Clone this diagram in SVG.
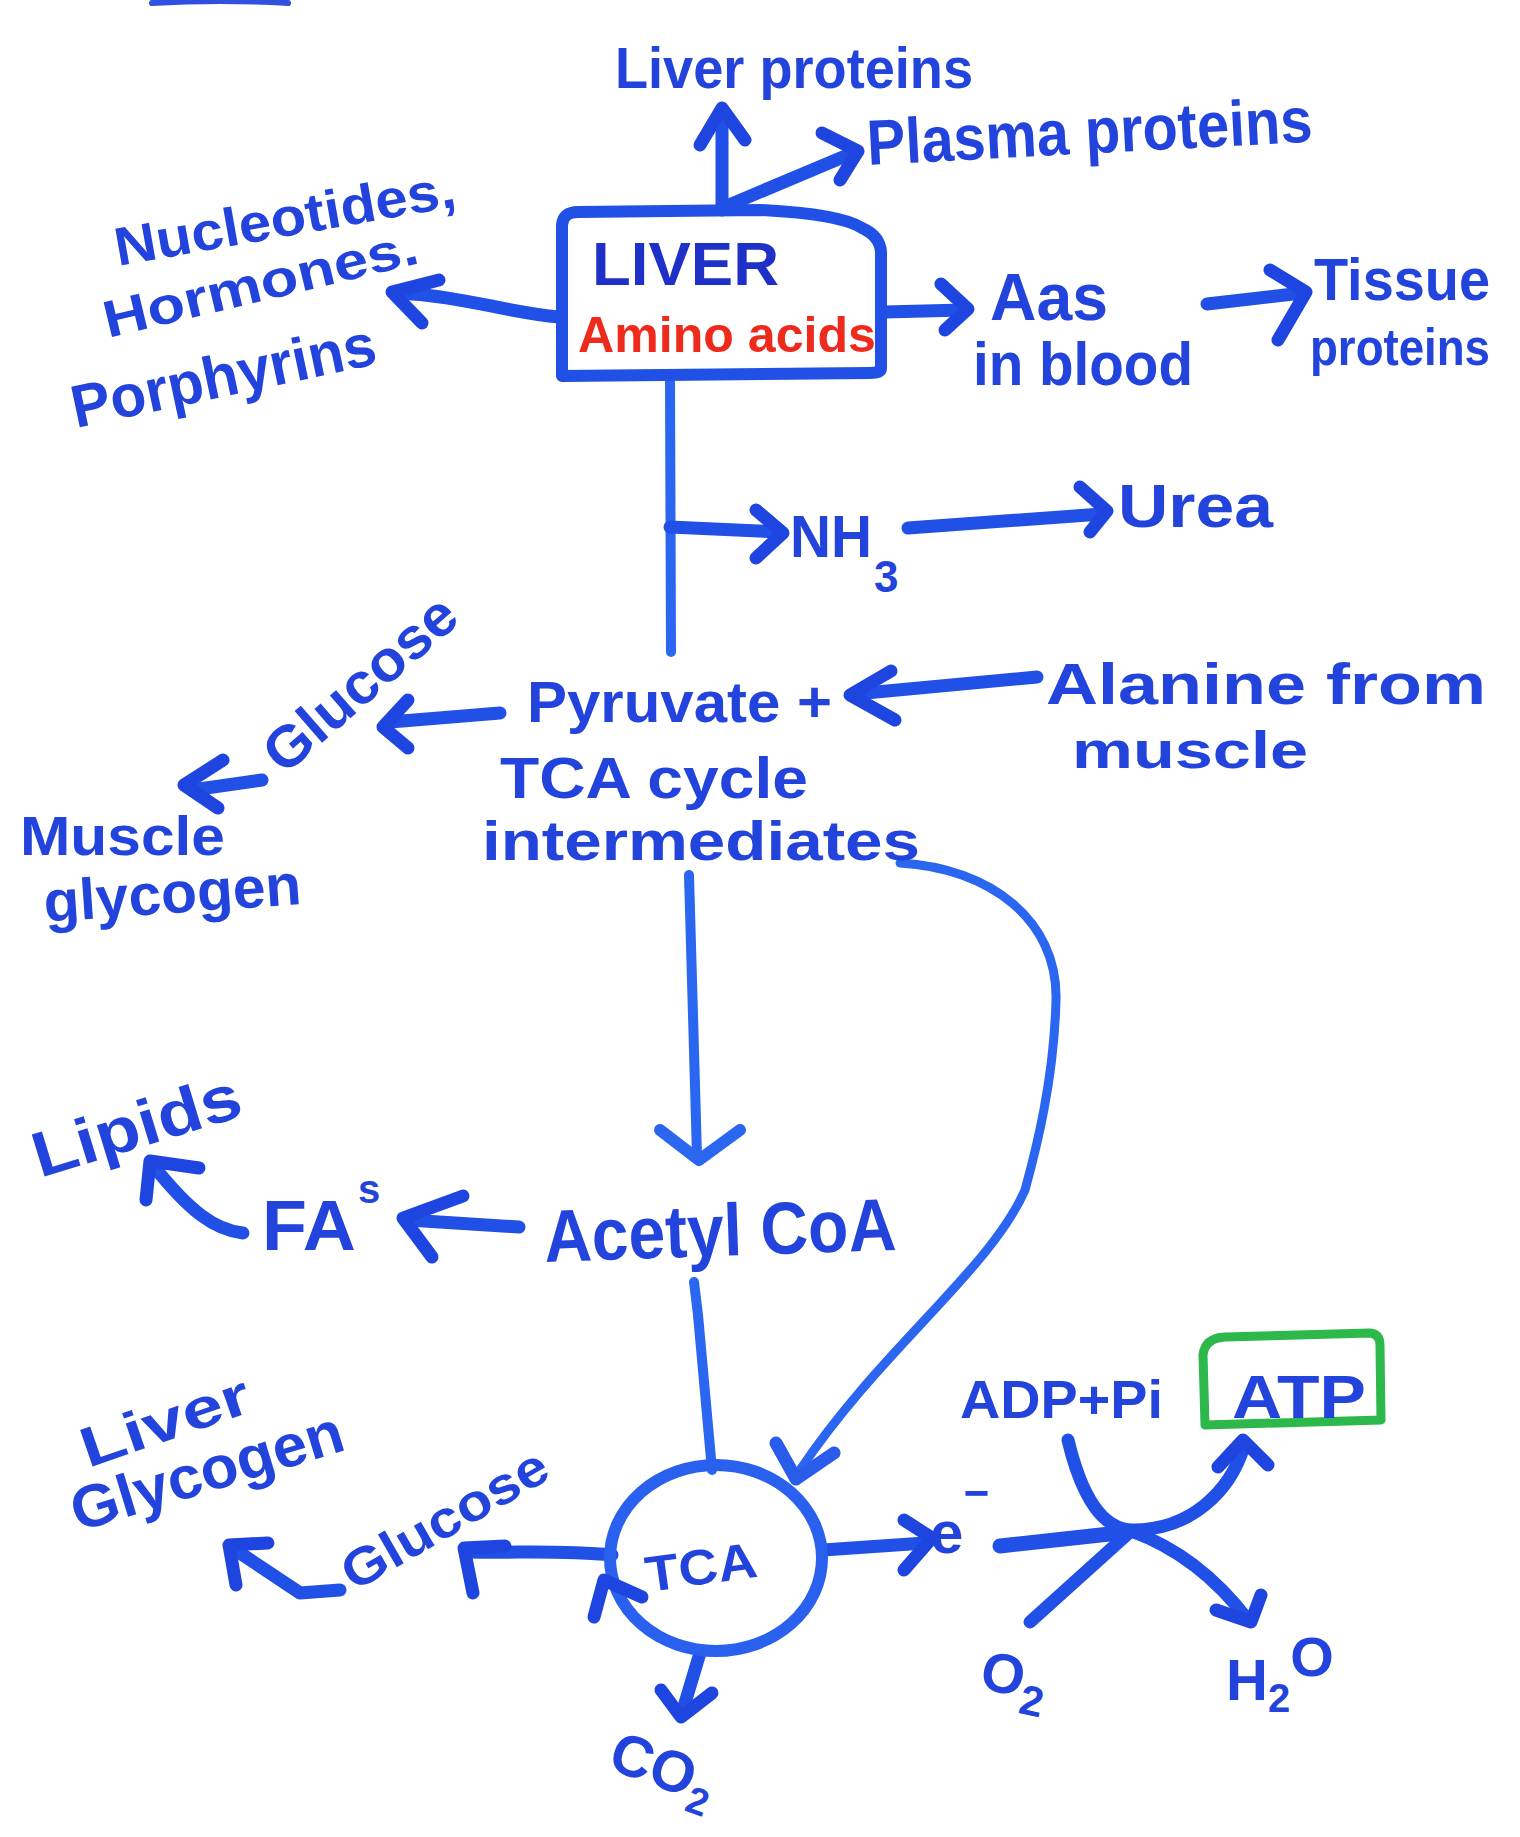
<svg xmlns="http://www.w3.org/2000/svg" width="1520" height="1837" viewBox="0 0 1520 1837">
  <style>
    .t { font-family: "Liberation Sans", "DejaVu Sans", Arial, sans-serif; font-weight: bold; fill: #2243dc; }
    .red { fill: #ee2a1c; }
    .ln { fill: none; stroke: #2050e6; stroke-width: 13; stroke-linecap: round; stroke-linejoin: round; }
    .thin { stroke: #2a66ef; stroke-width: 10; }
    .head { fill: none; stroke: #1f45e0; stroke-width: 13; stroke-linecap: round; stroke-linejoin: round; }
    .box { fill: none; stroke: #2050e6; stroke-width: 12; stroke-linejoin: round; }
    .green { fill: none; stroke: #2cb84a; stroke-width: 9; stroke-linejoin: round; }
  </style>
  <rect width="1520" height="1837" fill="#ffffff"/>

  <!-- stray pen mark along the top edge -->
  <path d="M152 3 Q220 -1 288 3" fill="none" stroke="#3050e0" stroke-width="6" stroke-linecap="round"/>

  <g id="connectors">
    <!-- liver -> liver proteins -->
    <path class="ln" d="M722 210 L722 112"/>
    <path class="head" d="M700 145 L722 108 L745 140"/>
    <!-- liver -> plasma proteins -->
    <path class="ln" d="M722 208 L855 152"/>
    <path class="head" d="M822 133 L858 151 L840 180"/>
    <!-- liver -> nucleotides -->
    <path class="ln" d="M559 317 C505 312 462 296 398 293"/>
    <path class="head" d="M439 280 L392 292 L422 323"/>
    <!-- liver -> amino acids in blood -->
    <path class="ln" d="M884 312 L964 310"/>
    <path class="head" d="M941 284 L968 309 L945 330"/>
    <!-- amino acids in blood -> tissue proteins -->
    <path class="ln" d="M1207 304 L1302 293"/>
    <path class="head" d="M1270 270 L1306 292 L1278 340"/>
    <!-- liver -> pyruvate, with branch to NH3 -->
    <path class="ln thin" d="M670 378 L671 652"/>
    <path class="ln" d="M670 527 L780 532"/>
    <path class="head" d="M756 510 L783 533 L756 558"/>
    <!-- NH3 -> urea -->
    <path class="ln" d="M908 528 L1102 514"/>
    <path class="head" d="M1080 487 L1107 511 L1090 532"/>
    <!-- alanine -> pyruvate -->
    <path class="ln" d="M1037 677 L855 694"/>
    <path class="head" d="M891 671 L850 695 L895 720"/>
    <!-- pyruvate -> glucose -->
    <path class="ln" d="M500 713 L390 722"/>
    <path class="head" d="M408 700 L383 727 L408 748"/>
    <!-- glucose -> muscle glycogen -->
    <path class="ln" d="M262 780 L192 790"/>
    <path class="head" d="M223 760 L184 785 L218 808"/>
    <!-- intermediates -> acetyl CoA -->
    <path class="ln thin" d="M689 875 L697 1156"/>
    <path class="head" d="M660 1130 L699 1160 L740 1130" style="stroke:#2a66ef;stroke-width:12"/>
    <!-- acetyl CoA -> FAs -->
    <path class="ln" d="M519 1227 L408 1220"/>
    <path class="head" d="M463 1196 L403 1218 L432 1257"/>
    <!-- FAs -> lipids -->
    <path class="ln" d="M243 1233 C215 1230 190 1212 152 1164"/>
    <path class="head" d="M146 1200 L150 1161 L199 1168"/>
    <!-- acetyl CoA -> TCA -->
    <path class="ln thin" d="M694 1282 L698 1315 L712 1470"/>
    <!-- intermediates -> TCA -->
    <path class="ln thin" d="M900 863 C990 868 1058 920 1056 1000 C1054 1080 1036 1150 1025 1190 C990 1270 880 1350 800 1470" style="stroke-width:9"/>
    <path class="head" d="M776 1443 L796 1479 L834 1453" style="stroke:#2a5cec"/>
    <!-- TCA -> glucose -->
    <path class="ln" d="M612 1555 C560 1550 520 1553 468 1552"/>
    <path class="head" d="M505 1546 L464 1548 L473 1593"/>
    <!-- glucose -> liver glycogen -->
    <path class="ln" d="M340 1590 L300 1593 L231 1547"/>
    <path class="head" d="M268 1543 L229 1545 L236 1585"/>
    <!-- TCA -> e- -->
    <path class="ln" d="M823 1550 L925 1543"/>
    <path class="head" d="M904 1520 L932 1538 L904 1570"/>
    <!-- e- into the crossing -->
    <path class="ln" d="M1000 1546 L1128 1532" style="stroke-width:15"/>
    <!-- ADP + Pi -> ATP -->
    <path class="ln" d="M1068 1440 C1080 1490 1100 1530 1133 1530 C1190 1530 1230 1492 1244 1446"/>
    <path class="head" d="M1218 1467 L1243 1440 L1268 1465"/>
    <!-- O2 -> H2O -->
    <path class="ln" d="M1030 1622 L1131 1531 C1170 1545 1210 1570 1248 1620"/>
    <path class="head" d="M1216 1610 L1251 1622 L1261 1595"/>
    <!-- TCA -> CO2 -->
    <path class="ln" d="M700 1653 L682 1713"/>
    <path class="head" d="M661 1690 L681 1717 L712 1693"/>
  </g>

  <g id="liver-proteins">
    <text class="t" x="615" y="88" font-size="58" textLength="358" lengthAdjust="spacingAndGlyphs">Liver proteins</text>
  </g>
  <g id="plasma-proteins">
    <text class="t" x="868" y="165" font-size="64" textLength="446" lengthAdjust="spacingAndGlyphs" transform="rotate(-3 868 165)">Plasma proteins</text>
  </g>
  <g id="nucleotides">
    <text class="t" x="118" y="266" font-size="54" textLength="345" lengthAdjust="spacingAndGlyphs" transform="rotate(-10 118 266)">Nucleotides,</text>
    <text class="t" x="108" y="338" font-size="52" textLength="322" lengthAdjust="spacingAndGlyphs" transform="rotate(-13.5 108 338)">Hormones.</text>
    <text class="t" x="76" y="428" font-size="60" textLength="310" lengthAdjust="spacingAndGlyphs" transform="rotate(-12 76 428)">Porphyrins</text>
  </g>
  <g id="liver">
    <path class="box" d="M562 376 L562 225 Q563 212 578 212 L760 210 Q840 214 862 228 Q880 236 881 252 L881 368 Q881 373 870 373 Z"/>
    <text class="t" x="592" y="285" font-size="62" textLength="187" lengthAdjust="spacingAndGlyphs" style="fill:#1f30c8">LIVER</text>
    <text class="t red" x="578" y="352" font-size="50" textLength="298" lengthAdjust="spacingAndGlyphs">Amino acids</text>
  </g>
  <g id="aas-in-blood">
    <text class="t" x="990" y="320" font-size="66" textLength="118" lengthAdjust="spacingAndGlyphs">Aas</text>
    <text class="t" x="973" y="385" font-size="62" textLength="220" lengthAdjust="spacingAndGlyphs">in blood</text>
  </g>
  <g id="tissue-proteins">
    <text class="t" x="1314" y="300" font-size="60" textLength="176" lengthAdjust="spacingAndGlyphs">Tissue</text>
    <text class="t" x="1310" y="365" font-size="52" textLength="180" lengthAdjust="spacingAndGlyphs">proteins</text>
  </g>
  <g id="nh3">
    <text class="t" x="790" y="557" font-size="60" textLength="82" lengthAdjust="spacingAndGlyphs">NH</text>
    <text class="t" x="874" y="592" font-size="44">3</text>
  </g>
  <g id="urea">
    <text class="t" x="1118" y="527" font-size="62" textLength="155" lengthAdjust="spacingAndGlyphs">Urea</text>
  </g>
  <g id="pyruvate">
    <text class="t" x="527" y="722" font-size="58" textLength="305" lengthAdjust="spacingAndGlyphs">Pyruvate +</text>
    <text class="t" x="500" y="798" font-size="58" textLength="308" lengthAdjust="spacingAndGlyphs">TCA cycle</text>
    <text class="t" x="482" y="860" font-size="56" textLength="438" lengthAdjust="spacingAndGlyphs">intermediates</text>
  </g>
  <g id="alanine">
    <text class="t" x="1046" y="704" font-size="58" textLength="440" lengthAdjust="spacingAndGlyphs">Alanine from</text>
    <text class="t" x="1072" y="768" font-size="52" textLength="236" lengthAdjust="spacingAndGlyphs">muscle</text>
  </g>
  <g id="glucose-upper">
    <text class="t" x="284" y="776" font-size="58" textLength="236" lengthAdjust="spacingAndGlyphs" transform="rotate(-41 284 776)">Glucose</text>
  </g>
  <g id="muscle-glycogen">
    <text class="t" x="20" y="855" font-size="56" textLength="205" lengthAdjust="spacingAndGlyphs">Muscle</text>
    <text class="t" x="45" y="922" font-size="58" textLength="258" lengthAdjust="spacingAndGlyphs" transform="rotate(-4 45 922)">glycogen</text>
  </g>
  <g id="acetyl-coa">
    <text class="t" x="545" y="1262" font-size="74" textLength="352" lengthAdjust="spacingAndGlyphs" transform="rotate(-2 545 1262)">Acetyl CoA</text>
  </g>
  <g id="fas">
    <text class="t" x="262" y="1250" font-size="70" textLength="94" lengthAdjust="spacingAndGlyphs">FA</text>
    <text class="t" x="358" y="1203" font-size="40">s</text>
  </g>
  <g id="lipids">
    <text class="t" x="40" y="1178" font-size="64" textLength="215" lengthAdjust="spacingAndGlyphs" transform="rotate(-17 40 1178)">Lipids</text>
  </g>
  <g id="liver-glycogen">
    <text class="t" x="88" y="1468" font-size="56" textLength="176" lengthAdjust="spacingAndGlyphs" transform="rotate(-19 88 1468)">Liver</text>
    <text class="t" x="78" y="1532" font-size="60" textLength="282" lengthAdjust="spacingAndGlyphs" transform="rotate(-17 78 1532)">Glycogen</text>
  </g>
  <g id="glucose-lower">
    <text class="t" x="354" y="1592" font-size="52" textLength="230" lengthAdjust="spacingAndGlyphs" transform="rotate(-30 354 1592)">Glucose</text>
  </g>
  <g id="tca">
    <ellipse cx="716" cy="1558" rx="106" ry="93" fill="none" stroke="#2a60ee" stroke-width="12"/>
    <path class="head" d="M594 1617 L604 1580 L642 1597"/>
    <text class="t" x="648" y="1592" font-size="50" textLength="112" lengthAdjust="spacingAndGlyphs" transform="rotate(-8 648 1592)">TCA</text>
  </g>
  <g id="electrons">
    <text class="t" x="930" y="1553" font-size="60">e<tspan dy="-45" font-size="44">−</tspan></text>
  </g>
  <g id="adp-pi">
    <text class="t" x="960" y="1418" font-size="54" textLength="203" lengthAdjust="spacingAndGlyphs">ADP+Pi</text>
  </g>
  <g id="atp">
    <path class="green" d="M1203 1355 Q1205 1338 1225 1337 L1370 1333 Q1380 1334 1380 1345 L1381 1420 L1205 1425 Z"/>
    <text class="t" x="1232" y="1418" font-size="62" textLength="134" lengthAdjust="spacingAndGlyphs">ATP</text>
  </g>
  <g id="o2">
    <text class="t" x="978" y="1688" font-size="56" transform="rotate(12 978 1688)">O<tspan dy="16" font-size="42">2</tspan></text>
  </g>
  <g id="h2o">
    <text class="t" x="1226" y="1700" font-size="58">H<tspan dy="12" font-size="40">2</tspan><tspan dy="-36" font-size="56">O</tspan></text>
  </g>
  <g id="co2">
    <text class="t" x="606" y="1768" font-size="58" transform="rotate(20 606 1768)">CO<tspan dy="13" font-size="38">2</tspan></text>
  </g>
</svg>
